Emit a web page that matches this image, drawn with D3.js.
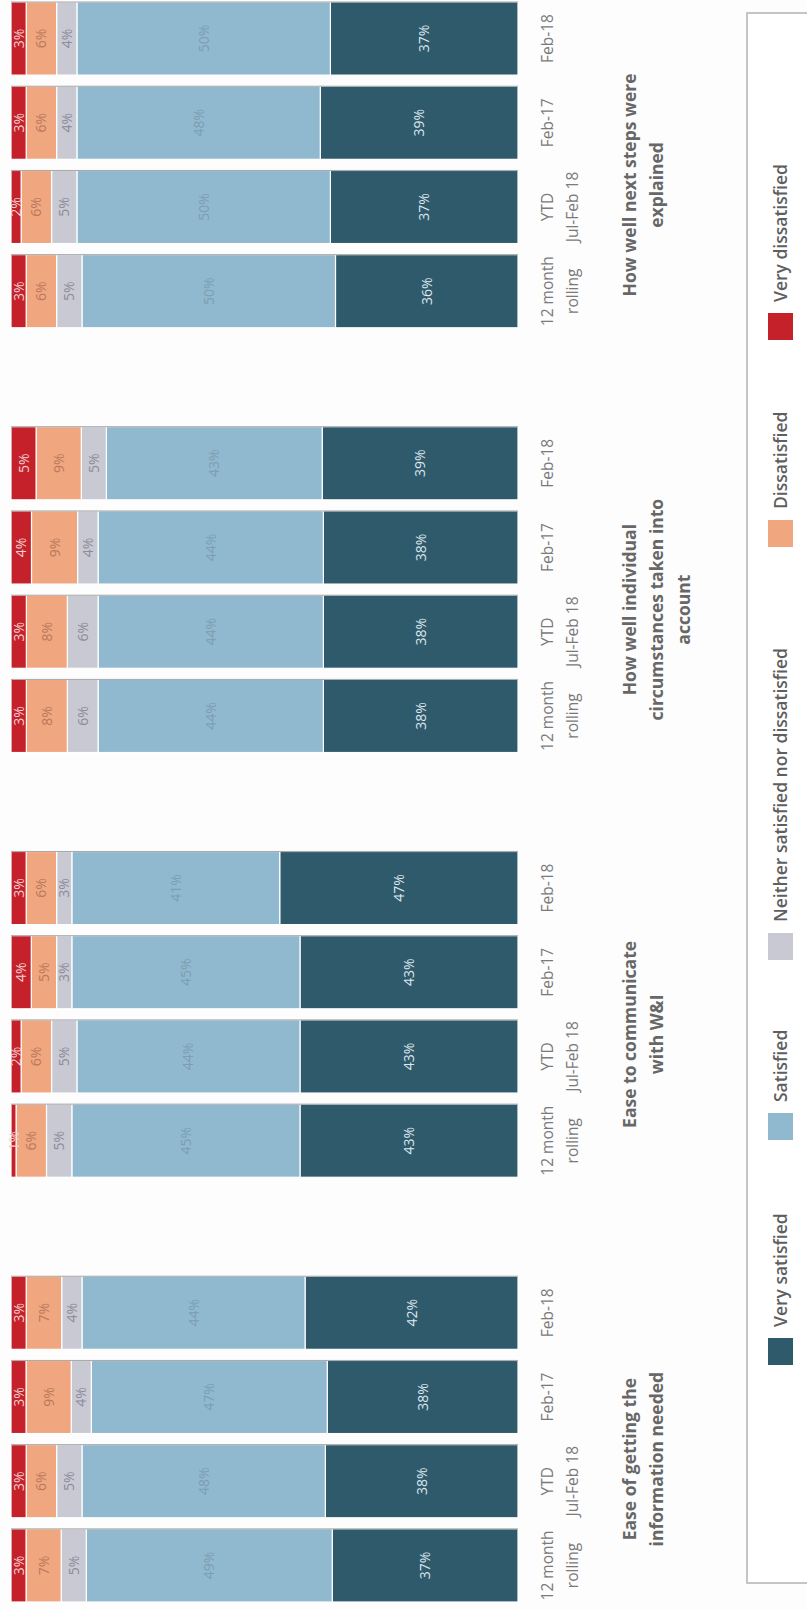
<!DOCTYPE html>
<html>
<head>
<meta charset="utf-8">
<script src="https://cdn.jsdelivr.net/npm/d3@7"></script>
<style>
  html, body { margin: 0; padding: 0; background: #fdfdfd; }
  svg { display: block; }
  text { font-family: "Open Sans", "Noto Sans", sans-serif; }
</style>
</head>
<body>
<svg id="chart" width="807" height="1610"></svg>
<script>
// Survey questions (one cluster of bars each)
const questions = [
  "Ease of getting the information needed",
  "Ease to communicate with W&I",
  "How well individual circumstances taken into account",
  "How well next steps were explained"
];
const questionLines = [
  ["Ease of getting the", "information needed"],
  ["Ease to communicate", "with W&I"],
  ["How well individual", "circumstances taken into", "account"],
  ["How well next steps were", "explained"]
];

// Reporting periods within each cluster
const periods = ["12 month rolling", "YTD Jul-Feb 18", "Feb-17", "Feb-18"];
const periodLines = [["12 month", "rolling"], ["YTD", "Jul-Feb 18"], ["Feb-17"], ["Feb-18"]];

// Response categories, stacked from the bottom up
const responses = ["Very satisfied", "Satisfied", "Neither satisfied nor dissatisfied", "Dissatisfied", "Very dissatisfied"];
const colors = ["#2f5a6c", "#90b9cf", "#c9c9d3", "#f0a67f", "#c4212b"];
const labelColors = ["#dde7ec", "#7d9db0", "#8b8b9a", "#b9795b", "#f3d0d0"];

// Percentages per period, one array per question: [VS, S, N, D, VD]
const easeInformation = [
  [37, 49, 5, 7, 3],
  [38, 48, 5, 6, 3],
  [38, 47, 4, 9, 3],
  [42, 44, 4, 7, 3]
];
const easeCommunicate = [
  [43, 45, 5, 6, 1],
  [43, 44, 5, 6, 2],
  [43, 45, 3, 5, 4],
  [47, 41, 3, 6, 3]
];
const circumstances = [
  [38, 44, 6, 8, 3],
  [38, 44, 6, 8, 3],
  [38, 44, 4, 9, 4],
  [39, 43, 5, 9, 5]
];
const nextSteps = [
  [36, 50, 5, 6, 3],
  [37, 50, 5, 6, 2],
  [39, 48, 4, 6, 3],
  [37, 50, 4, 6, 3]
];
const seriesByQuestion = [easeInformation, easeCommunicate, circumstances, nextSteps];

// Flatten into one row per bar
const rows = [];
questions.forEach((q, qi) => {
  periods.forEach((p, pi) => {
    const row = { question: q, period: p };
    responses.forEach((r, ri) => { row[r] = seriesByQuestion[qi][pi][ri]; });
    rows.push(row);
  });
});

const W = 1610, H = 807;
const svg = d3.select("#chart");
// The chart is laid out as a vertical column chart and turned a quarter turn counter-clockwise
const g = svg.append("g").attr("transform", `translate(0,${W}) rotate(-90)`);

const xGroup = d3.scaleBand().domain(questions).range([8, 1608]).paddingInner(0.233).paddingOuter(0);
const xPeriod = d3.scaleBand().domain(periods).range([0, xGroup.bandwidth()]).paddingInner(0.132).paddingOuter(0);
const y = d3.scaleLinear().domain([0, 1]).range([518, 11]);

const stack = d3.stack().keys(responses).offset(d3.stackOffsetExpand);
const stacked = stack(rows);

const barX = d => xGroup(d.data.question) + xPeriod(d.data.period);

const layers = g.selectAll("g.layer").data(stacked).join("g")
  .attr("class", "layer")
  .attr("fill", (d, i) => colors[i]);

layers.selectAll("rect").data(d => d).join("rect")
  .attr("x", barX)
  .attr("y", d => y(d[1]))
  .attr("width", xPeriod.bandwidth())
  .attr("height", d => y(d[0]) - y(d[1]))
  .attr("stroke", "#ffffff")
  .attr("stroke-width", 1.2);

// Faint edge along one side of each bar
g.selectAll("line.edge").data(rows).join("line")
  .attr("class", "edge")
  .attr("x1", d => xGroup(d.question) + xPeriod(d.period) + xPeriod.bandwidth())
  .attr("x2", d => xGroup(d.question) + xPeriod(d.period) + xPeriod.bandwidth())
  .attr("y1", y(1))
  .attr("y2", y(0))
  .attr("stroke", "#3a3a3a")
  .attr("stroke-opacity", 0.45)
  .attr("stroke-width", 1);

// Value labels inside each segment
stacked.forEach((layer, li) => {
  g.append("g").selectAll("text").data(layer).join("text")
    .attr("x", d => barX(d) + xPeriod.bandwidth() / 2)
    .attr("y", d => (y(d[0]) + y(d[1])) / 2 + 5)
    .attr("text-anchor", "middle")
    .attr("font-size", 14)
    .attr("fill", labelColors[li])
    .text(d => d.data[responses[li]] + "%");
});

// Period labels under the bars
const catG = g.append("g");
questions.forEach(q => {
  periods.forEach((p, pi) => {
    const cx = xGroup(q) + xPeriod(p) + xPeriod.bandwidth() / 2;
    const t = catG.append("text")
      .attr("x", cx).attr("y", 553)
      .attr("text-anchor", "middle")
      .attr("font-size", 15.5)
      .attr("fill", "#7a7a7a");
    periodLines[pi].forEach((line, li) => {
      t.append("tspan").attr("x", cx).attr("dy", li === 0 ? 0 : 25).text(line);
    });
  });
});

// Question titles
questions.forEach((q, qi) => {
  const cx = xGroup(q) + xGroup.bandwidth() / 2 - 20;
  const t = g.append("text")
    .attr("x", cx).attr("y", 636)
    .attr("text-anchor", "middle")
    .attr("font-size", 17.5)
    .attr("font-weight", 700)
    .attr("fill", "#676767");
  questionLines[qi].forEach((line, li) => {
    t.append("tspan").attr("x", cx).attr("dy", li === 0 ? 0 : 27).text(line);
  });
});

// Legend frame
g.append("rect")
  .attr("x", 27).attr("y", 747)
  .attr("width", 1570).attr("height", 120)
  .attr("fill", "#ffffff")
  .attr("stroke", "#b3b3b3")
  .attr("stroke-width", 1.5);

// Legend entries: swatch followed by its label
const legendStart = [245, 470, 650, 1063, 1270];
const legend = g.append("g").selectAll("g").data(responses).join("g")
  .attr("transform", (d, i) => `translate(${legendStart[i]},0)`);
legend.append("rect")
  .attr("y", 768)
  .attr("width", 27).attr("height", 25)
  .attr("fill", (d, i) => colors[i]);
legend.append("text")
  .attr("x", 38).attr("y", 787)
  .attr("font-size", 17.5)
  .attr("font-weight", 600)
  .attr("fill", "#5f5f5f")
  .text(d => d);
</script>
</body>
</html>
